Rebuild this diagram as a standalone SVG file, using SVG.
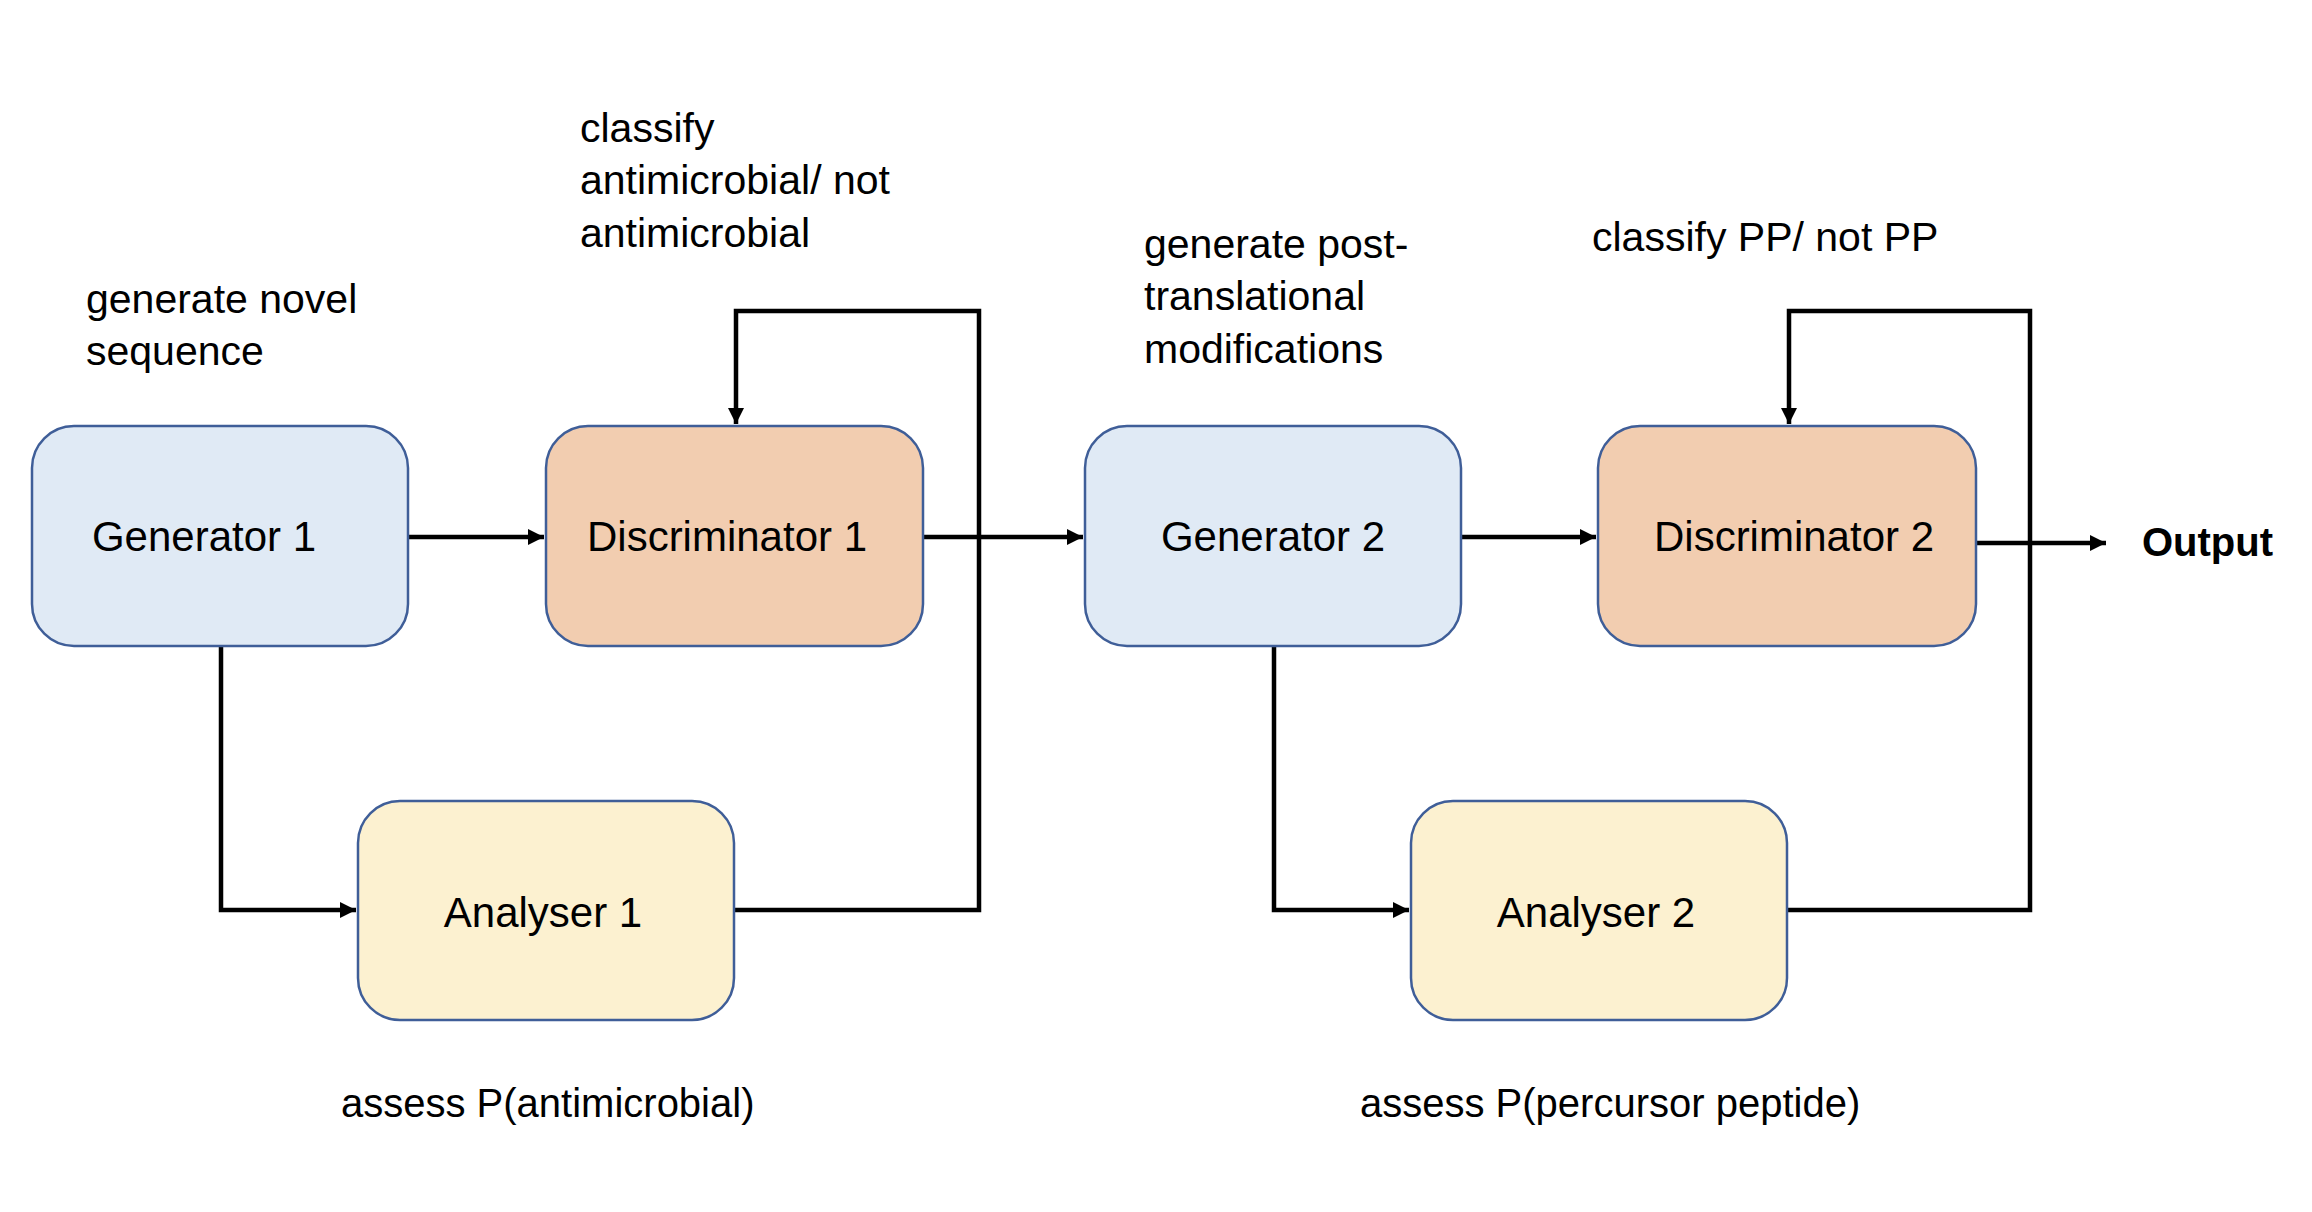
<svg xmlns="http://www.w3.org/2000/svg" width="2312" height="1212" viewBox="0 0 2312 1212">
<defs>
<style>
.box{stroke:#3f5e98;stroke-width:2.5}
.gen{fill:#e0eaf5}
.dis{fill:#f2cdb0}
.ana{fill:#fcf1d0}
.lbl{font-family:"Liberation Sans",Arial,sans-serif;font-size:42px;fill:#000}
.ann{font-family:"Liberation Sans",Arial,sans-serif;font-size:41px;fill:#000}
.ann2{font-family:"Liberation Sans",Arial,sans-serif;font-size:40px;fill:#000}
.out{font-family:"Liberation Sans",Arial,sans-serif;font-size:40px;font-weight:bold;fill:#000}
.con{fill:none;stroke:#000;stroke-width:4.5}
</style>
<marker id="ah" markerUnits="userSpaceOnUse" markerWidth="18" markerHeight="16" refX="16" refY="8" orient="auto">
<path d="M0,0 L16,8 L0,16 Z" fill="#000"/>
</marker>
</defs>
<rect width="2312" height="1212" fill="#fff"/>
<g id="connectors">
<path class="con" d="M408,537 H544" marker-end="url(#ah)"/>
<path class="con" d="M221,646 V910 H356" marker-end="url(#ah)"/>
<path class="con" d="M734,910 H979 V311 H736 V424" marker-end="url(#ah)"/>
<path class="con" d="M923,537 H1083" marker-end="url(#ah)"/>
<path class="con" d="M1461,537 H1596" marker-end="url(#ah)"/>
<path class="con" d="M1274,646 V910 H1409" marker-end="url(#ah)"/>
<path class="con" d="M1787,910 H2030 V311 H1789 V424" marker-end="url(#ah)"/>
<path class="con" d="M1976,543 H2106" marker-end="url(#ah)"/>
</g>
<g id="generator1">
<rect class="box gen" x="32" y="426" width="376" height="220" rx="42"/>
<text class="lbl" x="204" y="551" text-anchor="middle">Generator 1</text>
</g>
<g id="discriminator1">
<rect class="box dis" x="546" y="426" width="377" height="220" rx="42"/>
<text class="lbl" x="727" y="551" text-anchor="middle">Discriminator 1</text>
</g>
<g id="analyser1">
<rect class="box ana" x="358" y="801" width="376" height="219" rx="42"/>
<text class="lbl" x="543" y="927" text-anchor="middle">Analyser 1</text>
</g>
<g id="generator2">
<rect class="box gen" x="1085" y="426" width="376" height="220" rx="42"/>
<text class="lbl" x="1273" y="551" text-anchor="middle">Generator 2</text>
</g>
<g id="discriminator2">
<rect class="box dis" x="1598" y="426" width="378" height="220" rx="42"/>
<text class="lbl" x="1794" y="551" text-anchor="middle">Discriminator 2</text>
</g>
<g id="analyser2">
<rect class="box ana" x="1411" y="801" width="376" height="219" rx="42"/>
<text class="lbl" x="1596" y="927" text-anchor="middle">Analyser 2</text>
</g>
<g id="output">
<text class="out" x="2142" y="556">Output</text>
</g>
<g id="annotations">
<text class="ann" x="86" y="313">generate novel</text>
<text class="ann" x="86" y="365">sequence</text>
<text class="ann" x="580" y="142">classify</text>
<text class="ann" x="580" y="194">antimicrobial/ not</text>
<text class="ann" x="580" y="247">antimicrobial</text>
<text class="ann" x="1144" y="258">generate post-</text>
<text class="ann" x="1144" y="310">translational</text>
<text class="ann" x="1144" y="363">modifications</text>
<text class="ann" x="1592" y="251">classify PP/ not PP</text>
<text class="ann2" x="341" y="1117">assess P(antimicrobial)</text>
<text class="ann2" x="1360" y="1117">assess P(percursor peptide)</text>
</g>
</svg>
